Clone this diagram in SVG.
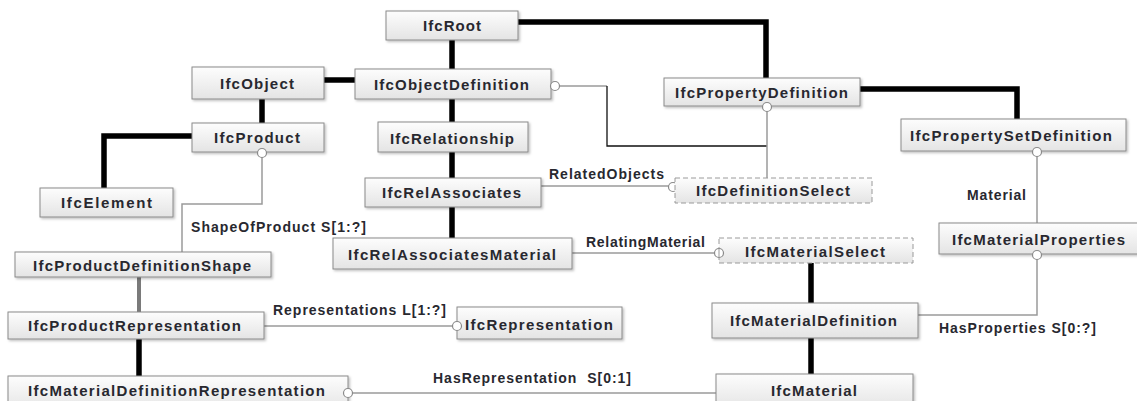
<svg xmlns="http://www.w3.org/2000/svg" width="1137" height="401" viewBox="0 0 1137 401">
<style>
.bx{fill:url(#g);stroke:#8a8a8a;stroke-width:1;filter:url(#sh)}
.ds{fill:url(#g);stroke:#9a9a9a;stroke-width:1;stroke-dasharray:5 3}
.t{font-family:"Liberation Sans",Arial,sans-serif;font-weight:bold;font-size:15px;fill:#28282f}
.l{font-family:"Liberation Sans",Arial,sans-serif;font-weight:bold;font-size:14px;fill:#28282f}
.k{fill:none;stroke:#000;stroke-width:5.5;stroke-linejoin:miter}
.kg{fill:none;stroke:#7a7a7a;stroke-width:4}
.n{fill:none;stroke:#9a9a9a;stroke-width:1.5}
.nb{fill:none;stroke:#111;stroke-width:1.3}
.c{fill:#fff;stroke:#8a8a8a;stroke-width:1.2}
</style>
<defs>
<linearGradient id="g" x1="0" y1="0" x2="0" y2="1">
<stop offset="0" stop-color="#fdfdfd"/>
<stop offset="1" stop-color="#e4e4e4"/>
</linearGradient>
<filter id="sh" x="-5%" y="-10%" width="115%" height="140%">
<feDropShadow dx="1.5" dy="1.5" stdDeviation="0.8" flood-color="#000" flood-opacity="0.25"/>
</filter>
</defs>
<rect width="1137" height="401" fill="#fff"/>

<g id="connectors">
<polyline class="k" points="518,22 766,22 766,78"/>
<line class="k" x1="452" y1="40" x2="452" y2="69"/>
<line class="k" x1="452" y1="99" x2="452" y2="122"/>
<line class="k" x1="452" y1="152" x2="452" y2="178"/>
<line class="k" x1="452" y1="207" x2="452" y2="238"/>
<line class="k" x1="324" y1="80" x2="355" y2="80"/>
<line class="k" x1="262" y1="99" x2="262" y2="123"/>
<polyline class="k" points="192,136 104,136 104,188"/>
<polyline class="k" points="860,89 1017,89 1017,119"/>
<line class="k" x1="811" y1="263" x2="811" y2="303"/>
<line class="k" x1="811" y1="338" x2="811" y2="374"/>
<line class="k" x1="139" y1="339" x2="139" y2="376"/>
<line class="kg" x1="139" y1="277" x2="139" y2="312"/>
<polyline class="n" points="262,152 262,204 182,204 182,252"/>
<line class="n" x1="551" y1="86" x2="607" y2="86"/>
<polyline class="nb" points="607,86 607,146 767,146"/>
<line class="n" x1="767" y1="106" x2="767" y2="178"/>
<line class="n" x1="541" y1="186" x2="675" y2="186"/>
<line class="n" x1="572" y1="253" x2="719" y2="253"/>
<line class="n" x1="1037" y1="151" x2="1037" y2="223"/>
<polyline class="n" points="1037,254 1037,315 918,315"/>
<line class="n" x1="264" y1="326" x2="457" y2="326"/>
<line class="n" x1="348" y1="393" x2="716" y2="393"/>
<circle class="c" cx="673" cy="187" r="4.5"/>
<text class="l" x="549" y="179" textLength="115">RelatedObjects</text>
<text class="l" x="191" y="232" textLength="175">ShapeOfProduct S[1:?]</text>
<text class="l" x="967" y="200" textLength="59">Material</text>
<text class="l" x="586" y="247" textLength="119">RelatingMaterial</text>
<text class="l" x="273" y="315" textLength="173">Representations L[1:?]</text>
<text class="l" x="939" y="333" textLength="157">HasProperties S[0:?]</text>
<text class="l" x="433" y="383" textLength="198" style="white-space:pre">HasRepresentation  S[0:1]</text>
</g>

<g id="IfcRoot"><rect class="bx" x="386" y="11" width="132" height="29"/><text class="t" x="423" y="31" textLength="58">IfcRoot</text></g>
<g id="IfcObject"><rect class="bx" x="192" y="67" width="132" height="32"/><text class="t" x="220" y="88.5" textLength="74">IfcObject</text></g>
<g id="IfcObjectDefinition"><rect class="bx" x="355" y="69" width="196" height="30"/><text class="t" x="374" y="89.5" textLength="155">IfcObjectDefinition</text></g>
<g id="IfcPropertyDefinition"><rect class="bx" x="664" y="78" width="196" height="28"/><text class="t" x="675" y="97.5" textLength="173">IfcPropertyDefinition</text></g>
<g id="IfcProduct"><rect class="bx" x="192" y="123" width="132" height="29"/><text class="t" x="214" y="143" textLength="86">IfcProduct</text></g>
<g id="IfcRelationship"><rect class="bx" x="378" y="122" width="150" height="30"/><text class="t" x="390" y="143.5" textLength="124">IfcRelationship</text></g>
<g id="IfcPropertySetDefinition"><rect class="bx" x="901" y="119" width="225" height="32"/><text class="t" x="910" y="141" textLength="202">IfcPropertySetDefinition</text></g>
<g id="IfcElement"><rect class="bx" x="40" y="188" width="133" height="29"/><text class="t" x="61" y="208" textLength="91">IfcElement</text></g>
<g id="IfcRelAssociates"><rect class="bx" x="365" y="178" width="176" height="29"/><text class="t" x="382" y="198" textLength="139">IfcRelAssociates</text></g>
<g id="IfcDefinitionSelect"><rect class="ds" x="675" y="178" width="197" height="25"/><text class="t" x="696" y="196" textLength="154">IfcDefinitionSelect</text></g>
<g id="IfcMaterialProperties"><rect class="bx" x="939" y="223" width="201" height="31"/><text class="t" x="952" y="244.5" textLength="173">IfcMaterialProperties</text></g>
<g id="IfcProductDefinitionShape"><rect class="bx" x="15" y="252" width="256" height="25"/><text class="t" x="33" y="270.5" textLength="218">IfcProductDefinitionShape</text></g>
<g id="IfcRelAssociatesMaterial"><rect class="bx" x="333" y="238" width="239" height="31"/><text class="t" x="348" y="259.5" textLength="208">IfcRelAssociatesMaterial</text></g>
<g id="IfcMaterialSelect"><rect class="ds" x="719" y="238" width="194" height="25"/><text class="t" x="745" y="257" textLength="140">IfcMaterialSelect</text></g>
<g id="IfcMaterialDefinition"><rect class="bx" x="712" y="303" width="206" height="35"/><text class="t" x="730" y="325.5" textLength="167">IfcMaterialDefinition</text></g>
<g id="IfcProductRepresentation"><rect class="bx" x="8" y="312" width="256" height="27"/><text class="t" x="28" y="331" textLength="213">IfcProductRepresentation</text></g>
<g id="IfcRepresentation"><rect class="bx" x="457" y="307" width="165" height="32"/><text class="t" x="465" y="329.5" textLength="148">IfcRepresentation</text></g>
<g id="IfcMaterialDefinitionRepresentation"><rect class="bx" x="8" y="376" width="340" height="35"/><text class="t" x="28" y="395.5" textLength="297">IfcMaterialDefinitionRepresentation</text></g>
<g id="IfcMaterial"><rect class="bx" x="716" y="374" width="197" height="35"/><text class="t" x="771" y="395.5" textLength="86">IfcMaterial</text></g>

<g id="connector-ends">
<circle class="c" cx="262" cy="153" r="4.5"/>
<circle class="c" cx="555" cy="86" r="4.5"/>
<circle class="c" cx="767" cy="107" r="4.5"/>
<circle class="c" cx="719" cy="253" r="4.5"/>
<line x1="719" y1="249" x2="719" y2="257" stroke="#9a9a9a"/>
<circle class="c" cx="1037" cy="152" r="4.5"/>
<circle class="c" cx="1037" cy="255" r="4.5"/>
<circle class="c" cx="457" cy="326" r="4.5"/>
<circle class="c" cx="348" cy="393" r="4.5"/>
</g>
</svg>
